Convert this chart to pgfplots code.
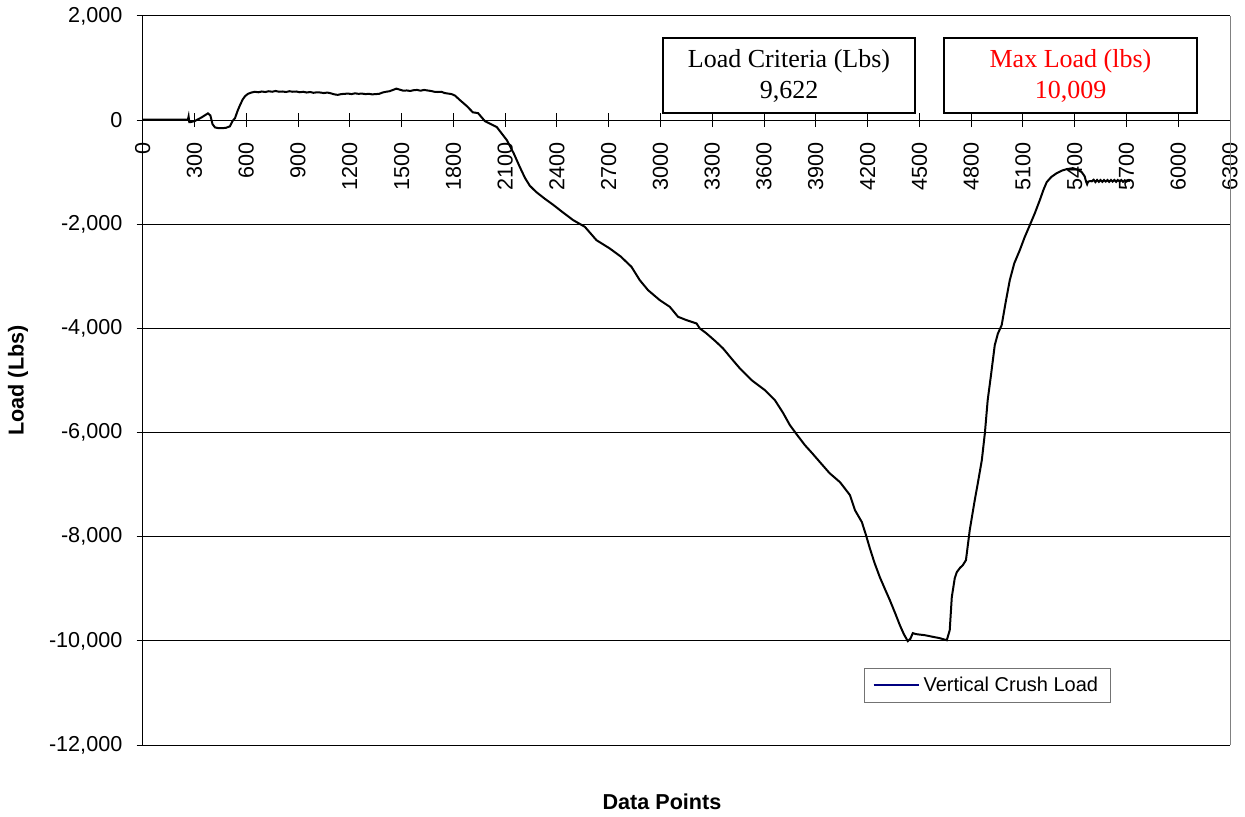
\documentclass[border=0pt]{standalone}
\usepackage{fontspec}
\setmainfont{Liberation Sans}
\newfontfamily\timesfont{Liberation Serif}
\usepackage{pgfplots}
\pgfplotsset{compat=1.18}
\definecolor{legnavy}{HTML}{000080}
\begin{document}
\begin{tikzpicture}
\begin{axis}[
  name=ax,
  scale only axis,
  width=543.65pt, height=364.5pt,
  xmin=0, xmax=6300, ymin=-12000, ymax=2000,
  axis y line*=left,
  axis x line*=middle,
  hide obscured x ticks=false,
  hide obscured y ticks=false,
  xtick={0,300,...,6300},
  ytick={-12000,-10000,...,2000},
  minor tick num=0,
  ymajorgrids,
  grid style={black, line width=0.5pt},
  axis line style={black, line width=0.5pt},
  xtick align=center,
  ytick align=outside,
  major tick length=3pt,
  xtick style={black, line width=0.5pt, /pgfplots/major tick length=7pt},
  ytick style={black, line width=0.5pt},
  scaled ticks=false,
  /pgf/number format/assume math mode=true,
  xticklabel shift=9.5pt,
  xticklabel style={rotate=90, anchor=east, inner sep=0pt, font=\fontsize{10.8}{12}\selectfont, /pgf/number format/1000 sep={}},
  yticklabel style={inner sep=0pt, xshift=-7pt, font=\fontsize{10.8}{12}\selectfont, /pgf/number format/1000 sep={,}},
  xlabel={\textbf{Data Points}},
  ylabel={\textbf{Load (Lbs)}},
  every axis x label/.style={at={(rel axis cs:0.4776,-0.0782)}, anchor=center, font=\fontsize{10.8}{12}\selectfont},
  every axis y label/.style={at={(rel axis cs:-0.1147,0.5)}, anchor=center, rotate=90, font=\fontsize{10.8}{12}\selectfont},
  clip=false,
  legend style={at={(rel axis cs:0.6634,0.1056)}, anchor=north west, draw=black!55, line width=0.5pt, fill=white,
    font=\fontsize{10}{12}\selectfont, inner xsep=4pt, inner ysep=2pt},
  legend image code/.code={\draw[legnavy, line width=1pt] (0pt,0pt) -- (22.5pt,0pt);},
  legend cell align=left,
]
\addplot[black, line width=1pt] coordinates {
(0,10)(100,12)(200,8)(262,10)(266,70)(270,-40)(275,-40)(300,-20)(340,50)(378,130)(392,90)(405,-80)(419,-140)(440,-155)(480,-150)(505,-120)(520,-20)(535,40)(550,180)(564,290)(580,400)(593,460)(610,505)
(630,530)(650,545)(670,535)(690,550)(710,540)(730,555)(750,545)(770,560)(790,545)(810,550)(830,540)(850,555)(870,545)(890,550)(910,535)(930,545)(950,530)(970,540)(990,525)(1010,535)(1030,530)(1050,520)(1070,530)(1090,515)(1110,495)(1130,485)(1150,500)(1170,505)(1190,510)(1210,500)(1230,515)(1250,505)(1270,510)(1290,500)(1310,505)(1330,495)(1350,500)(1370,505)(1390,530)(1410,545)(1430,555)(1450,580)(1470,605)(1490,585)(1510,565)(1530,570)(1550,560)(1570,575)(1590,580)(1610,565)(1630,580)(1650,570)(1670,560)(1690,545)(1710,540)(1730,545)(1750,520)(1770,510)(1790,500)
(1810,470)(1838,385)(1878,270)(1913,150)(1943,135)(1983,-20)(2052,-135)(2110,-385)(2150,-640)(2185,-900)(2215,-1110)(2243,-1260)(2280,-1380)(2330,-1510)(2380,-1630)(2430,-1760)(2494,-1920)(2562,-2049)(2629,-2305)(2706,-2464)(2770,-2620)(2832,-2817)(2880,-3073)(2928,-3265)(2996,-3457)(3054,-3585)(3102,-3777)(3151,-3841)(3209,-3905)(3228,-4000)(3267,-4097)(3320,-4250)(3363,-4385)(3411,-4577)(3459,-4763)(3528,-4993)(3605,-5185)(3663,-5377)(3710,-5620)(3750,-5858)(3795,-6060)(3837,-6242)(3880,-6400)(3924,-6568)(3980,-6780)(4040,-6952)(4070,-7080)(4098,-7202)(4127,-7490)(4167,-7720)(4190,-7960)(4213,-8220)(4240,-8500)(4271,-8777)(4300,-9000)(4329,-9218)(4360,-9470)(4387,-9698)(4410,-9870)(4433,-10005)(4448,-9960)(4462,-9852)(4480,-9870)(4503,-9880)(4530,-9890)(4560,-9910)(4590,-9930)(4618,-9948)(4640,-9970)(4659,-9987)(4676,-9795)(4688,-9160)(4705,-8800)(4717,-8680)(4735,-8600)(4752,-8546)(4770,-8450)(4792,-7874)(4821,-7298)(4840,-6950)(4862,-6530)(4880,-6000)(4896,-5377)(4915,-4900)(4937,-4321)(4955,-4100)(4977,-3937)(5000,-3500)(5024,-3073)(5050,-2750)(5082,-2497)(5110,-2250)(5140,-2017)(5170,-1780)(5198,-1536)(5220,-1330)(5238,-1190)(5265,-1090)(5296,-1018)(5325,-970)(5354,-941)(5389,-922)(5415,-950)(5441,-999)(5458,-1080)(5466,-1180)(5472,-1230)(5478,-1180)(5490,-1170)
(5500,-1175)(5510,-1145)(5520,-1190)(5530,-1150)(5540,-1185)(5550,-1150)(5560,-1185)(5570,-1150)(5580,-1180)(5590,-1150)(5600,-1185)(5610,-1150)(5620,-1180)(5630,-1150)(5640,-1185)(5650,-1150)(5660,-1180)(5670,-1150)(5680,-1185)(5690,-1155)(5700,-1180)(5710,-1160)(5720,-1170)
};
\addlegendentry{Vertical Crush Load}
\draw[gray, line width=0.5pt] (rel axis cs:1,0) -- (rel axis cs:1,1);
\node[draw=black, line width=0.8pt, fill=white, minimum width=126pt, minimum height=37.5pt, inner sep=0pt, align=center,
  font=\timesfont\fontsize{13}{15.5}\selectfont] at (rel axis cs:0.5944,0.9184) {Load Criteria (Lbs)\\9,622};
\node[draw=black, line width=0.8pt, fill=white, minimum width=126.5pt, minimum height=37.5pt, inner sep=0pt, align=center,
  text=red, font=\timesfont\fontsize{13}{15.5}\selectfont] at (rel axis cs:0.8533,0.9184) {Max Load (lbs)\\10,009};
\end{axis}
\pgfresetboundingbox
\path[use as bounding box] ([shift={(-71.35pt,-36pt)}]ax.south west) rectangle ([shift={(7.5pt,8pt)}]ax.north east);
\end{tikzpicture}
\end{document}
